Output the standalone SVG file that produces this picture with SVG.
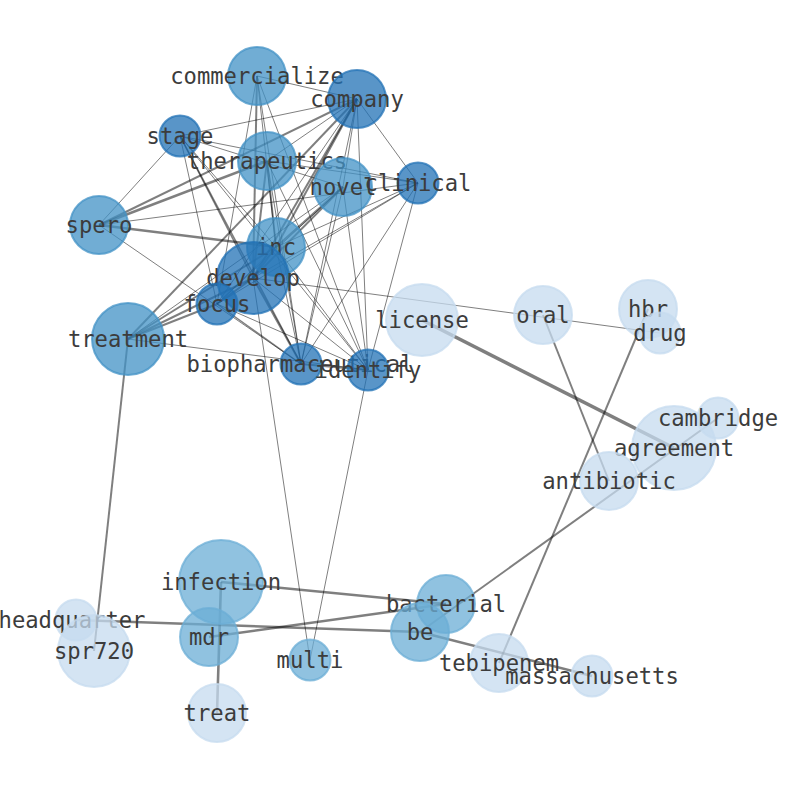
<svg xmlns="http://www.w3.org/2000/svg" width="794" height="790" viewBox="0 0 794 790">
<style>
  .bg{fill:#fff}
  #edges line{stroke:#000;stroke-opacity:.5;stroke-linecap:butt}
  .w1{stroke-width:1}
  .w15{stroke-width:1.5}
  .w2{stroke-width:2}
  .w3{stroke-width:2.6}
  .w4{stroke-width:3.6}
  circle{stroke-width:2;fill-opacity:.75;stroke-opacity:.75}
  .dk{fill:#2171b5;stroke:#2171b5}
  .md{fill:#4292c6;stroke:#4292c6}
  .lt{fill:#6baed6;stroke:#6baed6}
  .xl{fill:#c6dbef;stroke:#c6dbef}
  text{font-family:"DejaVu Sans Mono","Liberation Mono",monospace;font-size:22.2px;fill:#3c3c3c;text-anchor:middle}
</style>
<rect class="bg" width="794" height="790"/>
<g id="edges">
  <line class="w1" x1="257" y1="76" x2="357" y2="99"/>
  <line class="w1" x1="257" y1="76" x2="276" y2="247"/>
  <line class="w2" x1="257" y1="76" x2="253" y2="278"/>
  <line class="w1" x1="257" y1="76" x2="217" y2="304"/>
  <line class="w1" x1="257" y1="76" x2="301" y2="364"/>
  <line class="w1" x1="257" y1="76" x2="368" y2="370"/>
  <line class="w1" x1="357" y1="99" x2="180" y2="136"/>
  <line class="w1" x1="357" y1="99" x2="267" y2="161"/>
  <line class="w1" x1="357" y1="99" x2="343" y2="187"/>
  <line class="w1" x1="357" y1="99" x2="418" y2="183"/>
  <line class="w2" x1="357" y1="99" x2="276" y2="247"/>
  <line class="w2" x1="357" y1="99" x2="253" y2="278"/>
  <line class="w1" x1="357" y1="99" x2="217" y2="304"/>
  <line class="w2" x1="357" y1="99" x2="128" y2="339"/>
  <line class="w1" x1="357" y1="99" x2="301" y2="364"/>
  <line class="w1" x1="357" y1="99" x2="368" y2="370"/>
  <line class="w2" x1="357" y1="99" x2="99" y2="225"/>
  <line class="w1" x1="180" y1="136" x2="418" y2="183"/>
  <line class="w1" x1="180" y1="136" x2="343" y2="187"/>
  <line class="w1" x1="180" y1="136" x2="99" y2="225"/>
  <line class="w1" x1="180" y1="136" x2="276" y2="247"/>
  <line class="w15" x1="180" y1="136" x2="253" y2="278"/>
  <line class="w1" x1="180" y1="136" x2="217" y2="304"/>
  <line class="w15" x1="180" y1="136" x2="301" y2="364"/>
  <line class="w1" x1="180" y1="136" x2="368" y2="370"/>
  <line class="w1" x1="267" y1="161" x2="418" y2="183"/>
  <line class="w2" x1="267" y1="161" x2="276" y2="247"/>
  <line class="w2" x1="267" y1="161" x2="253" y2="278"/>
  <line class="w1" x1="267" y1="161" x2="301" y2="364"/>
  <line class="w1" x1="267" y1="161" x2="368" y2="370"/>
  <line class="w3" x1="267" y1="161" x2="99" y2="225"/>
  <line class="w2" x1="343" y1="187" x2="276" y2="247"/>
  <line class="w2" x1="343" y1="187" x2="253" y2="278"/>
  <line class="w1" x1="343" y1="187" x2="217" y2="304"/>
  <line class="w1" x1="343" y1="187" x2="128" y2="339"/>
  <line class="w1" x1="343" y1="187" x2="301" y2="364"/>
  <line class="w1" x1="343" y1="187" x2="368" y2="370"/>
  <line class="w1" x1="418" y1="183" x2="276" y2="247"/>
  <line class="w1" x1="418" y1="183" x2="253" y2="278"/>
  <line class="w1" x1="418" y1="183" x2="217" y2="304"/>
  <line class="w1" x1="418" y1="183" x2="301" y2="364"/>
  <line class="w1" x1="418" y1="183" x2="368" y2="370"/>
  <line class="w1" x1="418" y1="183" x2="99" y2="225"/>
  <line class="w3" x1="99" y1="225" x2="276" y2="247"/>
  <line class="w1" x1="99" y1="225" x2="301" y2="364"/>
  <line class="w2" x1="276" y1="247" x2="253" y2="278"/>
  <line class="w1" x1="276" y1="247" x2="217" y2="304"/>
  <line class="w2" x1="276" y1="247" x2="128" y2="339"/>
  <line class="w1" x1="276" y1="247" x2="301" y2="364"/>
  <line class="w1" x1="276" y1="247" x2="368" y2="370"/>
  <line class="w2" x1="253" y1="278" x2="217" y2="304"/>
  <line class="w2" x1="253" y1="278" x2="128" y2="339"/>
  <line class="w2" x1="253" y1="278" x2="301" y2="364"/>
  <line class="w1" x1="253" y1="278" x2="368" y2="370"/>
  <line class="w1" x1="253" y1="278" x2="660" y2="333"/>
  <line class="w1" x1="253" y1="278" x2="310" y2="660"/>
  <line class="w2" x1="217" y1="304" x2="128" y2="339"/>
  <line class="w15" x1="217" y1="304" x2="301" y2="364"/>
  <line class="w1" x1="217" y1="304" x2="368" y2="370"/>
  <line class="w2" x1="301" y1="364" x2="368" y2="370"/>
  <line class="w1" x1="128" y1="339" x2="368" y2="370"/>
  <line class="w1" x1="368" y1="370" x2="310" y2="660"/>
  <line class="w2" x1="128" y1="339" x2="94" y2="651"/>
  <line class="w4" x1="422" y1="320" x2="674" y2="448"/>
  <line class="w2" x1="543" y1="315" x2="609" y2="481"/>
  <line class="w2" x1="499" y1="663" x2="648" y2="309"/>
  <line class="w2" x1="420" y1="632" x2="718" y2="418"/>
  <line class="w3" x1="221" y1="582" x2="446" y2="604"/>
  <line class="w3" x1="221" y1="582" x2="217" y2="713"/>
  <line class="w3" x1="209" y1="637" x2="446" y2="604"/>
  <line class="w3" x1="76" y1="620" x2="420" y2="632"/>
  <line class="w3" x1="420" y1="632" x2="592" y2="676"/>
</g>
<g id="n-commercialize"><circle class="md" cx="257" cy="76" r="29"/><text x="257" y="83.5">commercialize</text></g>
<g id="n-company"><circle class="dk" cx="357" cy="99" r="29"/><text x="357" y="106.5">company</text></g>
<g id="n-stage"><circle class="dk" cx="180" cy="136" r="20.5"/><text x="180" y="143.5">stage</text></g>
<g id="n-therapeutics"><circle class="md" cx="267" cy="161" r="29"/><text x="267" y="168.5">therapeutics</text></g>
<g id="n-novel"><circle class="md" cx="343" cy="187" r="29"/><text x="343" y="194.5">novel</text></g>
<g id="n-clinical"><circle class="dk" cx="418" cy="183" r="20.5"/><text x="418" y="190.5">clinical</text></g>
<g id="n-spero"><circle class="md" cx="99" cy="225" r="29"/><text x="99" y="232.5">spero</text></g>
<g id="n-inc"><circle class="md" cx="276" cy="247" r="29"/><text x="276" y="254.5">inc</text></g>
<g id="n-develop"><circle class="dk" cx="253" cy="278" r="36"/><text x="253" y="285.5">develop</text></g>
<g id="n-focus"><circle class="dk" cx="217" cy="304" r="20.5"/><text x="217" y="311.5">focus</text></g>
<g id="n-treatment"><circle class="md" cx="128" cy="339" r="36"/><text x="128" y="346.5">treatment</text></g>
<g id="n-biopharmaceutical"><circle class="dk" cx="301" cy="364" r="20.5"/><text x="300" y="371.5">biopharmaceutical</text></g>
<g id="n-identify"><circle class="dk" cx="368" cy="370" r="20.5"/><text x="368" y="377.5">identify</text></g>
<g id="n-license"><circle class="xl" cx="422" cy="320" r="36"/><text x="422" y="327.5">license</text></g>
<g id="n-oral"><circle class="xl" cx="543" cy="315" r="29"/><text x="543" y="322.5">oral</text></g>
<g id="n-hbr"><circle class="xl" cx="648" cy="309" r="29"/><text x="648" y="316.5">hbr</text></g>
<g id="n-drug"><circle class="xl" cx="660" cy="333" r="20.5"/><text x="660" y="340.5">drug</text></g>
<g id="n-agreement"><circle class="xl" cx="674" cy="448" r="42"/><text x="674" y="455.5">agreement</text></g>
<g id="n-cambridge"><circle class="xl" cx="718" cy="418" r="20.5"/><text x="718" y="425.5">cambridge</text></g>
<g id="n-antibiotic"><circle class="xl" cx="609" cy="481" r="29"/><text x="609" y="488.5">antibiotic</text></g>
<g id="n-infection"><circle class="lt" cx="221" cy="582" r="42"/><text x="221" y="589.5">infection</text></g>
<g id="n-mdr"><circle class="lt" cx="209" cy="637" r="29"/><text x="209" y="644.5">mdr</text></g>
<g id="n-bacterial"><circle class="lt" cx="446" cy="604" r="29"/><text x="446" y="611.5">bacterial</text></g>
<g id="n-be"><circle class="lt" cx="420" cy="632" r="29"/><text x="420" y="639.5">be</text></g>
<g id="n-headquarter"><circle class="xl" cx="76" cy="620" r="20.5"/><text x="72" y="627.5">headquarter</text></g>
<g id="n-spr720"><circle class="xl" cx="94" cy="651" r="36"/><text x="94" y="658.5">spr720</text></g>
<g id="n-multi"><circle class="lt" cx="310" cy="660" r="20.5"/><text x="310" y="667.5">multi</text></g>
<g id="n-tebipenem"><circle class="xl" cx="499" cy="663" r="29"/><text x="499" y="670.5">tebipenem</text></g>
<g id="n-massachusetts"><circle class="xl" cx="592" cy="676" r="20.5"/><text x="592" y="683.5">massachusetts</text></g>
<g id="n-treat"><circle class="xl" cx="217" cy="713" r="29"/><text x="217" y="720.5">treat</text></g>
</svg>
